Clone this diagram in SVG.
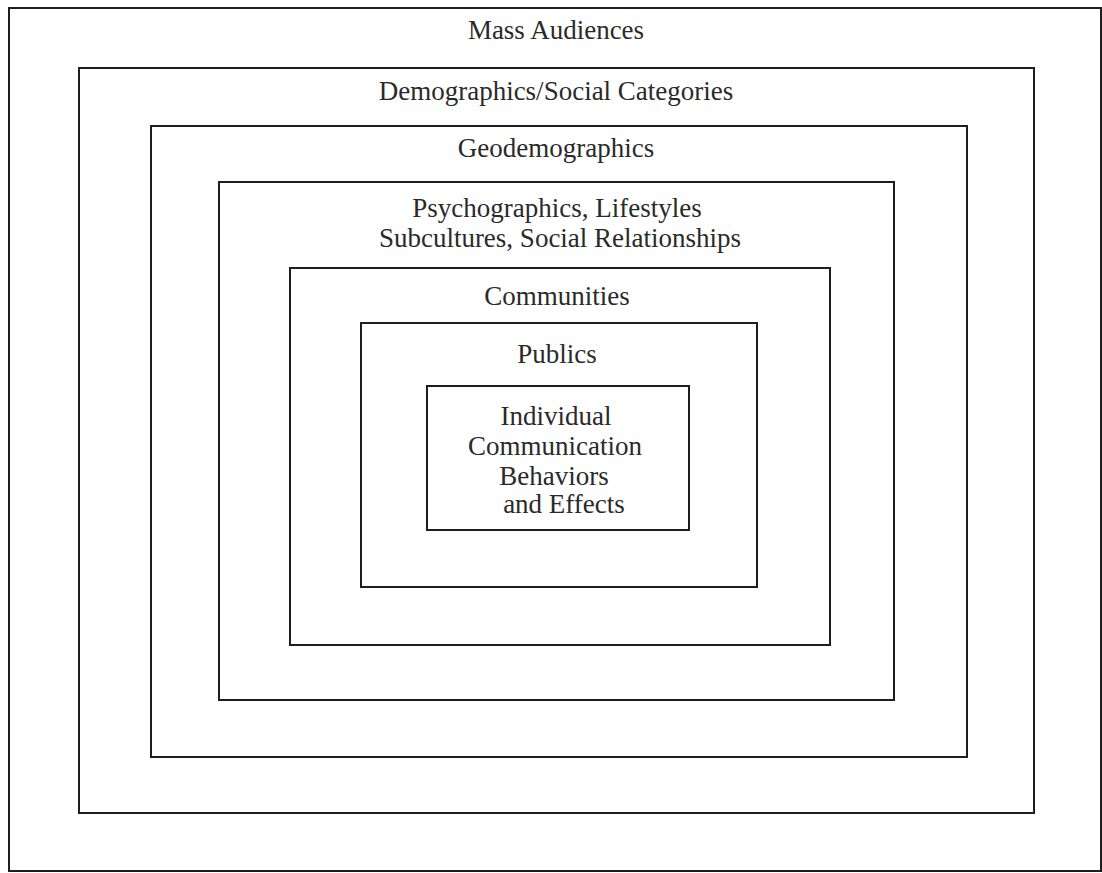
<svg xmlns="http://www.w3.org/2000/svg" width="1102" height="873" viewBox="0 0 1102 873">
<style>
.box{fill:none;stroke:#1e1e1e;stroke-width:2}
.t{font-family:"Liberation Serif","Times New Roman",serif;font-size:27px;fill:#2a2a2a;text-anchor:middle}
</style>
<rect width="1102" height="873" fill="#ffffff"/>
<g id="mass"><rect class="box" x="9" y="8" width="1092" height="863"/><text class="t" x="556" y="39">Mass Audiences</text></g>
<g id="demographics"><rect class="box" x="79" y="68" width="955" height="745"/><text class="t" x="556" y="100">Demographics/Social Categories</text></g>
<g id="geodemographics"><rect class="box" x="151" y="126" width="816" height="631"/><text class="t" x="556" y="157">Geodemographics</text></g>
<g id="psychographics"><rect class="box" x="219" y="182" width="675" height="518"/><text class="t" x="557" y="217">Psychographics, Lifestyles</text><text class="t" x="560" y="247">Subcultures, Social Relationships</text></g>
<g id="communities"><rect class="box" x="290" y="268" width="540" height="377"/><text class="t" x="557" y="305">Communities</text></g>
<g id="publics"><rect class="box" x="361" y="323" width="396" height="264"/><text class="t" x="557" y="363">Publics</text></g>
<g id="individual"><rect class="box" x="427" y="386" width="262" height="144"/><text class="t" x="556" y="425">Individual</text><text class="t" x="555" y="455">Communication</text><text class="t" x="554" y="485">Behaviors</text><text class="t" x="564" y="513">and Effects</text></g>
<g id="connectors"></g>
</svg>
